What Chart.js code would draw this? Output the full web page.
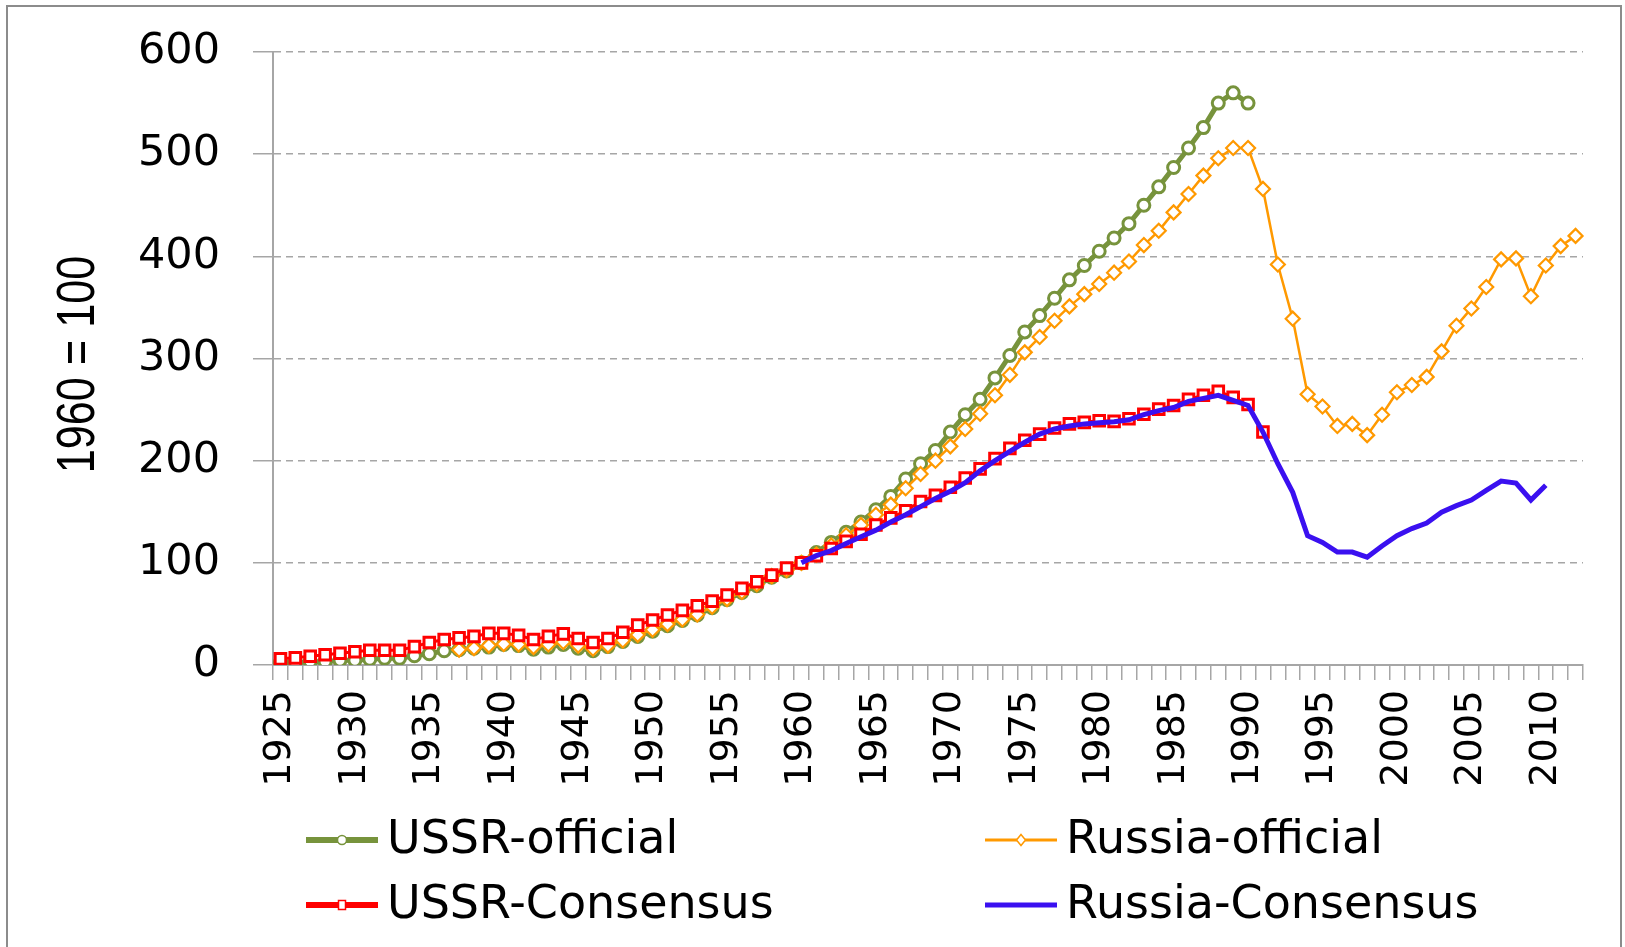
<!DOCTYPE html>
<html><head><meta charset="utf-8">
<script src="https://cdn.jsdelivr.net/npm/chart.js@4.4.1/dist/chart.umd.min.js"></script>
<style>
html,body{margin:0;padding:0;background:#fff;}
#wrap{position:relative;width:1625px;height:947px;overflow:hidden;background:#fff;}
#frame{position:absolute;left:6px;top:5px;width:1616px;height:980px;border:2px solid #8c8c8c;box-sizing:border-box;pointer-events:none;}
canvas{position:absolute;left:0;top:0;}
</style></head><body>
<div id="wrap"><canvas id="c" width="1625" height="947"></canvas><div id="frame"></div></div>
<script>
// ---- categories ----
const years = [1925,1926,1927,1928,1929,1930,1931,1932,1933,1934,1935,1936,1937,1938,1939,1940,1941,1942,1943,1944,
1945,1946,1947,1948,1949,1950,1951,1952,1953,1954,1955,1956,1957,1958,1959,1960,1961,1962,1963,1964,
1965,1966,1967,1968,1969,1970,1971,1972,1973,1974,1975,1976,1977,1978,1979,1980,1981,1982,1983,1984,
1985,1986,1987,1988,1989,1990,1991,1992,1993,1994,1995,1996,1997,1998,1999,2000,2001,2002,2003,2004,
2005,2006,2007,2008,2009,2010,2011,2012];
const labelYears = [1925,1930,1935,1940,1945,1950,1955,1960,1965,1970,1975,1980,1985,1990,1995,2000,2005,2010];
const yTicks = [0,100,200,300,400,500,600];
const yTitle = '1960 = 100';

// ---- series (index, 1960 = 100) ----
const seriesNames = ['USSR-official','Russia-official','USSR-Consensus','Russia-Consensus'];
const ussrOfficialStart = 1925; // 1925-1990
const ussrOfficial = [2.5,2.5,3.3,3.3,4.6,4.6,5.6,6.6,6.6,9,11,14,15,16.5,17.5,20,19,15.5,17.5,20,
16.5,14,18,23,28,33,38.5,43.5,49,56,64,71,77.5,86,92,100,110,120,130,140,
152,165,182,197,210,228,245,260,281,303,326,342,359,377,391,405,418,432,450,468,
487,506,526,550,560,550];
const russiaOfficialStart = 1937; // 1937-2012
const russiaOfficial = [15,16.5,19,20.5,20,17.5,20,22.5,19,16,19,24,29.5,34.5,40,44.5,49.5,57,64.5,71.5,
79,87,93,100,108,117,127,137,147,157,173,187,200,214,231,246,264,284,306,321,
337,351,363,373,384,395,411,425,443,461,479,496,506,506,466,392,339,265,253,234,
236,225,245,267,274,282,307,332,349,370,397,398,361,391,410,420];
const ussrConsensusStart = 1925; // 1925-1991
const ussrConsensus = [6,7,8.5,10,11.5,13,14.5,14.5,14.5,18,22,25,26.5,28,31,31,29,25,28,30.5,
26,22,26,32,39,44,49,53.5,58,62.5,68.5,75,81.5,88,95,100,107,114,121,128,
137,144,151,160,166,174,183,192,202,212,220,226,232,236,237.5,239,238.5,241,245.5,250.5,
254,260,264,268,262,255,228];
const russiaConsensusStart = 1960; // 1960-2010
const russiaConsensus = [100,107,112,119,125.5,132,140,147,155,163,170,178.5,190,200,209,218,226,231,234,236,
237,238,240,245,249,252,258,261,264,259,254,228,197,169,126.5,120,110.5,110.5,105.5,116.5,
126.5,133.5,139,149.5,156,161.5,171,180,178,161.5,176];

function align(start, vals){
  return years.map(y => { const k = y - start; return (k >= 0 && k < vals.length) ? vals[k] : null; });
}

const GREEN = '#77933C', ORANGE = '#FF9900', RED = '#FF0000', BLUE = '#3A10F0';

const legendPlugin = {
  id: 'customLegend',
  afterDraw(chart){
    const ctx = chart.ctx;
    const items = [
      {ds: 0, x: 306, y: 840}, {ds: 1, x: 985, y: 840},
      {ds: 2, x: 306, y: 905}, {ds: 3, x: 985, y: 905}
    ];
    ctx.save();
    items.forEach(it => {
      const d = chart.data.datasets[it.ds];
      const len = 72, cx = it.x + len/2;
      ctx.beginPath();
      ctx.strokeStyle = d.borderColor;
      ctx.lineWidth = d.legendLineWidth;
      ctx.moveTo(it.x, it.y); ctx.lineTo(it.x + len, it.y); ctx.stroke();
      ctx.fillStyle = '#fff';
      ctx.lineWidth = 1.5;
      ctx.beginPath();
      if (d.pointStyle === 'circle') {
        ctx.arc(cx, it.y, 4.5, 0, Math.PI*2);
      } else if (d.pointStyle === 'rect') {
        ctx.rect(cx - 3.5, it.y - 4.5, 7, 9);
      } else if (d.pointStyle === 'rectRot') {
        ctx.moveTo(cx, it.y - 5.5); ctx.lineTo(cx + 4.5, it.y); ctx.lineTo(cx, it.y + 5.5); ctx.lineTo(cx - 4.5, it.y); ctx.closePath();
      }
      if (d.pointRadius > 0) { ctx.fill(); ctx.stroke(); }
      ctx.fillStyle = '#000';
      ctx.font = "46px 'DejaVu Sans', sans-serif";
      ctx.textBaseline = 'middle';
      ctx.textAlign = 'left';
      ctx.fillText(d.label, it.x + 81, it.y + 1);
    });
    ctx.restore();
  }
};

const yTitlePlugin = {
  id: 'yTitle',
  afterDraw(chart){
    const ctx = chart.ctx;
    const cy = (chart.chartArea.top + chart.chartArea.bottom) / 2 + 6;
    ctx.save();
    ctx.translate(74, cy);
    ctx.rotate(-Math.PI/2);
    ctx.scale(0.8, 1);
    ctx.fillStyle = '#000';
    ctx.font = "54px 'Liberation Sans', sans-serif";
    ctx.textAlign = 'center';
    ctx.textBaseline = 'alphabetic';
    ctx.fillText(yTitle, 0, 19.5);
    ctx.restore();
  }
};

Chart.defaults.font.family = "'DejaVu Sans', sans-serif";

new Chart(document.getElementById('c'), {
  type: 'line',
  data: {
    labels: years.map(String),
    datasets: [
      { label: seriesNames[0], data: align(ussrOfficialStart, ussrOfficial), borderColor: GREEN, borderWidth: 5,
        pointStyle: 'circle', pointRadius: 6, pointBorderWidth: 3, pointBackgroundColor: '#fff', pointBorderColor: GREEN,
        order: 4, legendLineWidth: 6, tension: 0 },
      { label: seriesNames[1], data: align(russiaOfficialStart, russiaOfficial), borderColor: ORANGE, borderWidth: 2.5,
        pointStyle: 'rectRot', pointRadius: 7, pointBorderWidth: 2.2, pointBackgroundColor: '#fff', pointBorderColor: ORANGE,
        order: 3, legendLineWidth: 3, tension: 0 },
      { label: seriesNames[2], data: align(ussrConsensusStart, ussrConsensus), borderColor: RED, borderWidth: 3,
        pointStyle: 'rect', pointRadius: 7.5, pointBorderWidth: 3, pointBackgroundColor: '#fff', pointBorderColor: RED,
        order: 2, legendLineWidth: 6, tension: 0 },
      { label: seriesNames[3], data: align(russiaConsensusStart, russiaConsensus), borderColor: BLUE, borderWidth: 5,
        pointRadius: 0, order: 1, legendLineWidth: 5, tension: 0 }
    ]
  },
  options: {
    responsive: false, animation: false, devicePixelRatio: 1,
    layout: { padding: { left: 0, right: 42, top: 52, bottom: 146 } },
    plugins: { legend: { display: false }, tooltip: { enabled: false } },
    scales: {
      x: {
        type: 'category', offset: true,
        grid: { offset: true, drawOnChartArea: false, drawTicks: true, tickLength: 15, color: '#a6a6a6', lineWidth: 1.5 },
        border: { color: '#a6a6a6', width: 2 },
        ticks: { autoSkip: false, minRotation: 90, maxRotation: 90, padding: 10, color: '#000', font: { size: 38 },
          callback: function(v, i){ const y = years[i]; return labelYears.includes(y) ? String(y) : ''; } },
        afterFit: s => { s.height = 136; s.paddingLeft = 0; s.paddingRight = 0; }
      },
      y: {
        min: yTicks[0], max: yTicks[yTicks.length-1],
        afterBuildTicks: s => { s.ticks = yTicks.map(v => ({ value: v })); },
        ticks: { padding: 33, color: '#000', font: { size: 43 } },
        grid: { color: '#a6a6a6', lineWidth: 1.5, tickLength: 20, tickBorderDash: [] },
        border: { color: '#a6a6a6', width: 2, dash: [7, 5] },
        title: { display: false },
        afterFit: s => { s.width = 273; s.paddingTop = 0; s.paddingBottom = 0; }
      }
    }
  },
  plugins: [legendPlugin, yTitlePlugin]
});
</script>
</body></html>
